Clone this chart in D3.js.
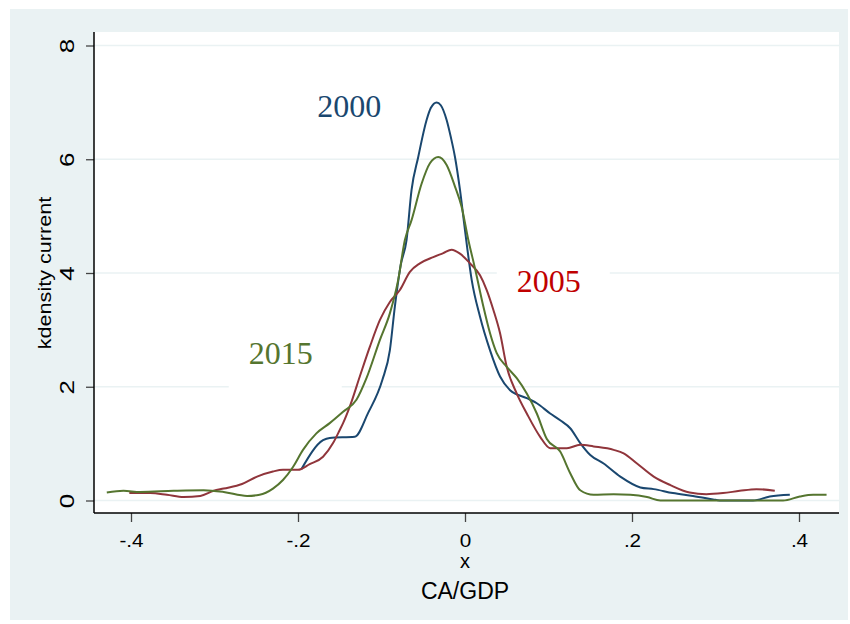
<!DOCTYPE html>
<html>
<head>
<meta charset="utf-8">
<script src="https://cdn.jsdelivr.net/npm/d3@7"></script>
<style>
  body { margin: 0; background: #fff; }
  svg text { font-family: "Liberation Sans", Arial, sans-serif; }
</style>
</head>
<body>
<div class="chart"></div>
<script>
// kdensity curves: [CA/GDP, density]
var series2000 = [
  [-0.196, 0.55], [-0.170, 1.06], [-0.162, 1.10], [-0.132, 1.12], [-0.116, 1.54],
  [-0.099, 2.12], [-0.090, 2.64], [-0.084, 3.41], [-0.077, 4.14], [-0.070, 4.58],
  [-0.064, 5.46], [-0.056, 6.04], [-0.046, 6.69], [-0.041, 6.90], [-0.034, 7.00],
  [-0.029, 6.95], [-0.022, 6.69], [-0.017, 6.39], [-0.012, 6.04], [-0.006, 5.46],
  [0.000, 4.75], [0.008, 3.88], [0.018, 3.23], [0.030, 2.64], [0.042, 2.18],
  [0.054, 1.94], [0.074, 1.80], [0.086, 1.71], [0.102, 1.53], [0.114, 1.41],
  [0.126, 1.27], [0.138, 1.01], [0.150, 0.80], [0.166, 0.65], [0.186, 0.42],
  [0.210, 0.23], [0.226, 0.20], [0.249, 0.13], [0.273, 0.08], [0.297, 0.02],
  [0.305, 0.00], [0.345, 0.00], [0.365, 0.07], [0.389, 0.10]
];

var series2005 = [
  [-0.402, 0.13], [-0.377, 0.13], [-0.357, 0.10], [-0.337, 0.06], [-0.317, 0.08],
  [-0.301, 0.17], [-0.289, 0.21], [-0.267, 0.29], [-0.249, 0.42], [-0.230, 0.51],
  [-0.218, 0.54], [-0.200, 0.54], [-0.186, 0.64], [-0.170, 0.77], [-0.158, 1.01],
  [-0.150, 1.24], [-0.146, 1.36], [-0.138, 1.65], [-0.126, 2.18], [-0.114, 2.70],
  [-0.102, 3.17], [-0.090, 3.49], [-0.078, 3.70], [-0.066, 4.02], [-0.054, 4.17],
  [-0.038, 4.28], [-0.026, 4.35], [-0.016, 4.41], [-0.006, 4.34], [0.006, 4.17],
  [0.018, 3.96], [0.026, 3.70], [0.034, 3.35], [0.042, 2.94], [0.050, 2.35],
  [0.062, 1.88], [0.074, 1.53], [0.090, 1.12], [0.102, 0.92], [0.122, 0.92],
  [0.138, 0.98], [0.154, 0.95], [0.178, 0.89], [0.190, 0.83], [0.206, 0.65],
  [0.226, 0.42], [0.246, 0.27], [0.269, 0.14], [0.289, 0.11], [0.309, 0.13],
  [0.329, 0.17], [0.349, 0.20], [0.371, 0.17]
];

var series2015 = [
  [-0.429, 0.14], [-0.409, 0.17], [-0.389, 0.15], [-0.349, 0.17], [-0.313, 0.18],
  [-0.289, 0.15], [-0.261, 0.08], [-0.246, 0.10], [-0.230, 0.21], [-0.218, 0.36],
  [-0.206, 0.59], [-0.194, 0.89], [-0.178, 1.18], [-0.162, 1.36], [-0.146, 1.56],
  [-0.130, 1.77], [-0.118, 2.15], [-0.102, 2.82], [-0.090, 3.29], [-0.080, 3.88],
  [-0.072, 4.58], [-0.064, 4.93], [-0.052, 5.57], [-0.042, 5.93], [-0.032, 6.04],
  [-0.022, 5.90], [-0.012, 5.52], [-0.004, 5.16], [0.004, 4.58], [0.012, 4.08],
  [0.022, 3.41], [0.030, 2.94], [0.038, 2.59], [0.050, 2.35], [0.062, 2.15],
  [0.074, 1.88], [0.086, 1.53], [0.098, 1.08], [0.114, 0.86], [0.126, 0.48],
  [0.138, 0.18], [0.154, 0.10], [0.178, 0.11], [0.198, 0.10], [0.218, 0.06],
  [0.234, 0.00], [0.381, 0.00], [0.401, 0.07], [0.417, 0.10], [0.433, 0.10]
];

var xTicks = [-0.4, -0.2, 0, 0.2, 0.4];
var xTickLabels = ["-.4", "-.2", "0", ".2", ".4"];
var yTicks = [0, 2, 4, 6, 8];

// year labels, anchored in data units (start of text, baseline)
var yearLabels = [
  {text: "2000", x: -0.177, y: 6.74, color: "#1a476f"},
  {text: "2005", x: 0.062, y: 3.66, color: "#c00000"},
  {text: "2015", x: -0.259, y: 2.40, color: "#55752f"}
];

var width = 850, height = 624;
var plot = {left: 94, right: 839, top: 32, bottom: 513};

var svg = d3.select(".chart")
  .append("svg")
  .attr("width", width)
  .attr("height", height);

// graph region + plot region
svg.append("rect")
  .attr("x", 10).attr("y", 9)
  .attr("width", 838).attr("height", 611)
  .attr("fill", "#eaf2f3");

svg.append("rect")
  .attr("x", plot.left).attr("y", plot.top)
  .attr("width", plot.right - plot.left).attr("height", plot.bottom - plot.top)
  .attr("fill", "#fff");

var x = d3.scaleLinear()
  .domain([-0.4, 0.4])
  .range([131, 799]);

var y = d3.scaleLinear()
  .domain([0, 8])
  .range([500.5, 45.5]);

// gridlines
svg.append("g")
  .selectAll("line")
  .data(yTicks)
  .enter().append("line")
    .attr("x1", plot.left).attr("x2", plot.right)
    .attr("y1", function(d) { return y(d); })
    .attr("y2", function(d) { return y(d); })
    .attr("stroke", "#eaf2f3")
    .attr("stroke-width", 1.6);

// white boxes behind the year labels
svg.append("g")
  .selectAll("rect")
  .data(yearLabels)
  .enter().append("rect")
    .attr("x", function(d) { return x(d.x) - 20; })
    .attr("y", function(d) { return y(d.y) - 30; })
    .attr("width", 113)
    .attr("height", 56)
    .attr("fill", "#fff");

var line = d3.line()
  .x(function(d) { return x(d[0]); })
  .y(function(d) { return y(d[1]); })
  .curve(d3.curveMonotoneX);

var curves = [
  {data: series2000, color: "#1a476f"},
  {data: series2005, color: "#90353b"},
  {data: series2015, color: "#55752f"}
];

svg.append("g")
  .selectAll("path")
  .data(curves)
  .enter().append("path")
    .attr("d", function(d) { return line(d.data); })
    .attr("fill", "none")
    .attr("stroke", function(d) { return d.color; })
    .attr("stroke-width", 2)
    .attr("stroke-linejoin", "round");

svg.append("g")
  .selectAll("text")
  .data(yearLabels)
  .enter().append("text")
    .attr("x", function(d) { return x(d.x); })
    .attr("y", function(d) { return y(d.y); })
    .attr("fill", function(d) { return d.color; })
    .style("font-family", "'Liberation Serif', 'Times New Roman', serif")
    .style("font-size", "32px")
    .text(function(d) { return d.text; });

// x axis
var xAxis = svg.append("g")
  .attr("transform", "translate(0," + plot.bottom + ")")
  .call(d3.axisBottom(x)
    .tickValues(xTicks)
    .tickFormat(function(d, i) { return xTickLabels[i]; })
    .tickSizeInner(9)
    .tickSizeOuter(0));

xAxis.select(".domain").remove();
xAxis.selectAll(".tick line").attr("stroke", "#444").attr("stroke-width", 1.3);
xAxis.selectAll(".tick text")
  .attr("y", 21)
  .attr("fill", "#000")
  .attr("transform", "scale(1.15,1)")
  .style("font-size", "18px");

// y axis
var yAxis = svg.append("g")
  .attr("transform", "translate(" + plot.left + ",0)")
  .call(d3.axisLeft(y)
    .tickValues(yTicks)
    .tickFormat(d3.format("d"))
    .tickSizeInner(8)
    .tickSizeOuter(0));

yAxis.select(".domain").remove();
yAxis.selectAll(".tick line").attr("stroke", "#444").attr("stroke-width", 1.3);
yAxis.selectAll(".tick text")
  .attr("x", 0).attr("y", 0).attr("dy", null)
  .attr("text-anchor", "middle")
  .attr("fill", "#000")
  .attr("transform", "translate(-20,0) rotate(-90) scale(1.3,1)")
  .style("font-size", "20px");

// axis lines
svg.append("line")
  .attr("x1", plot.left).attr("x2", plot.right)
  .attr("y1", plot.bottom).attr("y2", plot.bottom)
  .attr("stroke", "#000").attr("stroke-width", 1.5);

svg.append("line")
  .attr("x1", plot.left).attr("x2", plot.left)
  .attr("y1", plot.top).attr("y2", plot.bottom)
  .attr("stroke", "#000").attr("stroke-width", 1.5);

// titles
svg.append("text")
  .attr("transform", "translate(51," + y(4) + ") rotate(-90) scale(1.2,1)")
  .attr("text-anchor", "middle")
  .style("font-size", "18px")
  .text("kdensity current");

svg.append("text")
  .attr("x", x(0)).attr("y", 568)
  .attr("text-anchor", "middle")
  .style("font-size", "20px")
  .text("x");

svg.append("text")
  .attr("x", x(0)).attr("y", 599)
  .attr("text-anchor", "middle")
  .style("font-size", "23px")
  .text("CA/GDP");
</script>
</body>
</html>
